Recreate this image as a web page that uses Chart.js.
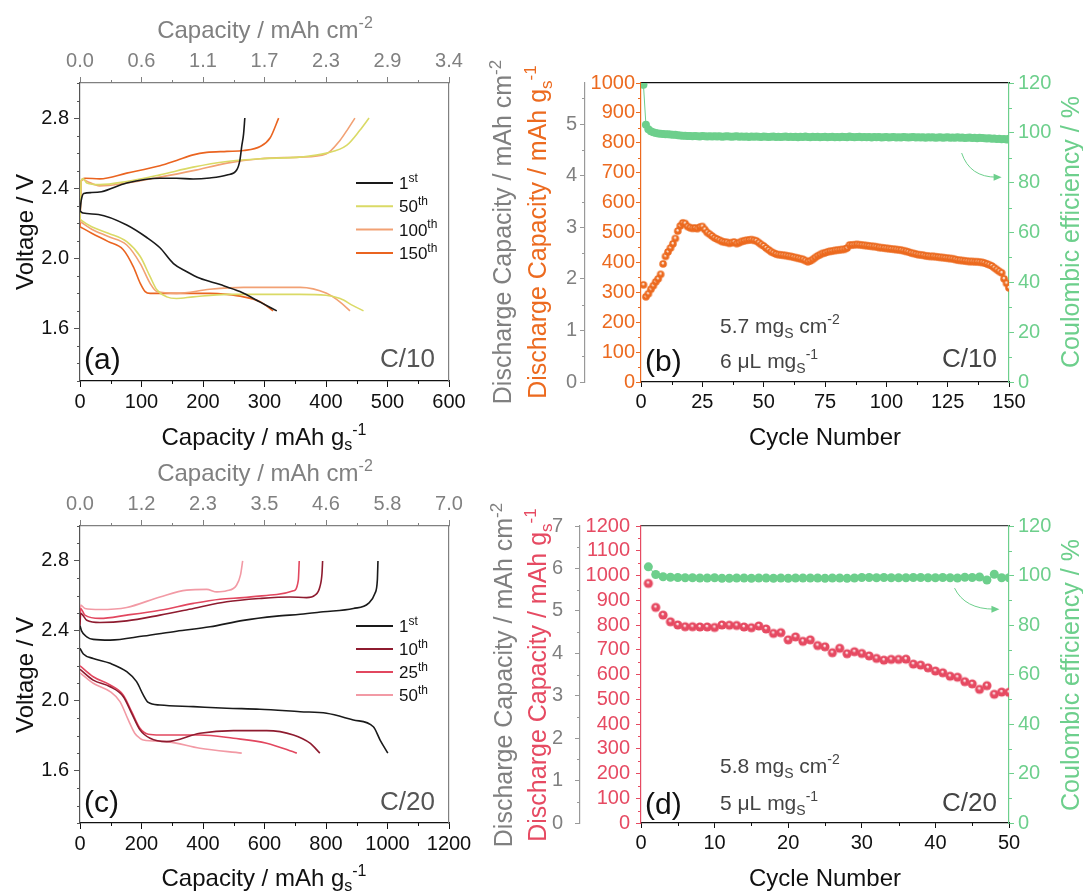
<!DOCTYPE html>
<html>
<head>
<meta charset="utf-8">
<script src="https://cdn.jsdelivr.net/npm/chart.js@4.4.1/dist/chart.umd.min.js"></script>
<style>
  html, body { margin: 0; padding: 0; background: #fff; }
  #wrap { position: relative; width: 1083px; height: 892px; }
  #wrap canvas { position: absolute; left: 0; top: 0; }
</style>
</head>
<body>
<div id="wrap">
  <canvas id="chartA" width="1083" height="892"></canvas>
  <canvas id="chartB" width="1083" height="892"></canvas>
  <canvas id="chartC" width="1083" height="892"></canvas>
  <canvas id="chartD" width="1083" height="892"></canvas>
</div>
<script>
// =============================================================================
// DATA
// =============================================================================

// Panel (a): voltage profiles at C/10, [capacity mAh/g, voltage V]
const cyclesA = ['1', '50', '100', '150'];
const suffixA = ['st', 'th', 'th', 'th'];
const a1Chg = [[0,2.27],[2,2.33],[6,2.37],[19,2.375],[35,2.38],[76,2.43],[130,2.457],[157,2.457],[184,2.452],[211,2.458],[239,2.475],[255,2.505],[260,2.56],[263,2.64],[266,2.71],[268,2.80]];
const a1Dis = [[0,2.27],[5,2.258],[30,2.25],[76,2.19],[108,2.12],[130,2.06],[152,1.97],[173,1.925],[195,1.886],[228,1.85],[260,1.81],[293,1.75],[320,1.70]];
const a50Chg = [[0,2.22],[2,2.44],[5,2.455],[11,2.43],[32,2.42],[76,2.438],[130,2.476],[184,2.52],[239,2.552],[293,2.568],[357,2.577],[401,2.60],[434,2.646],[455,2.73],[470,2.80]];
const a50Dis = [[0,2.225],[3,2.215],[19,2.18],[46,2.143],[76,2.095],[98,2.01],[114,1.895],[125,1.82],[141,1.78],[157,1.771],[184,1.78],[239,1.794],[357,1.794],[400,1.789],[423,1.77],[444,1.73],[461,1.70]];
const a100Chg = [[0,2.21],[2,2.44],[5,2.45],[11,2.44],[32,2.413],[76,2.43],[130,2.463],[184,2.50],[239,2.543],[293,2.568],[357,2.577],[400,2.595],[423,2.674],[436,2.74],[447,2.80]];
const a100Dis = [[0,2.21],[19,2.166],[46,2.124],[76,2.076],[98,1.97],[114,1.857],[125,1.81],[157,1.80],[211,1.823],[266,1.834],[358,1.834],[401,1.80],[423,1.75],[439,1.70]];
const a150Chg = [[0,2.18],[2,2.44],[8,2.457],[32,2.453],[76,2.486],[130,2.528],[157,2.558],[184,2.59],[206,2.604],[239,2.61],[266,2.615],[293,2.638],[309,2.686],[323,2.80]];
const a150Dis = [[0,2.18],[19,2.143],[46,2.095],[70,2.05],[87,1.95],[98,1.857],[106,1.81],[114,1.80],[157,1.80],[211,1.80],[239,1.794],[266,1.78],[293,1.752],[314,1.70]];
const capTicksA = [0, 100, 200, 300, 400, 500, 600];
const topLabelsA = ['0.0', '0.6', '1.1', '1.7', '2.3', '2.9', '3.4'];

// Panel (c): voltage profiles at C/20
const cyclesC = ['1', '10', '25', '50'];
const suffixC = ['st', 'th', 'th', 'th'];
const c1Chg = [[0,2.43],[5,2.40],[22,2.366],[43,2.351],[98,2.347],[206,2.37],[314,2.398],[423,2.423],[531,2.46],[640,2.484],[716,2.495],[791,2.509],[889,2.528],[938,2.557],[959,2.614],[967,2.69],[969,2.80]];
const c1Dis = [[0,2.30],[11,2.267],[43,2.242],[98,2.214],[152,2.166],[184,2.109],[206,2.032],[222,1.99],[260,1.975],[369,1.966],[477,1.957],[585,1.951],[716,1.937],[802,1.928],[889,1.89],[954,1.851],[976,1.775],[1001,1.70]];
const c10Chg = [[0,2.43],[2,2.50],[22,2.461],[65,2.448],[152,2.457],[260,2.49],[369,2.528],[477,2.566],[585,2.585],[683,2.594],[737,2.59],[764,2.604],[780,2.651],[787,2.728],[789,2.80]];
const c10Dis = [[0,2.18],[43,2.118],[98,2.08],[141,2.023],[168,1.928],[195,1.833],[228,1.785],[282,1.766],[390,1.814],[499,1.829],[607,1.829],[694,1.804],[748,1.757],[780,1.70]];
const c25Chg = [[0,2.45],[2,2.528],[16,2.49],[65,2.471],[152,2.49],[260,2.518],[369,2.557],[455,2.581],[531,2.59],[640,2.608],[694,2.629],[710,2.69],[713,2.80]];
const c25Dis = [[0,2.20],[43,2.137],[98,2.09],[141,2.032],[168,1.937],[195,1.842],[222,1.808],[260,1.804],[390,1.804],[499,1.785],[607,1.757],[705,1.70]];
const c50Chg = [[0,2.45],[2,2.547],[16,2.528],[65,2.522],[152,2.534],[260,2.594],[347,2.633],[412,2.637],[445,2.623],[477,2.629],[509,2.661],[522,2.72],[529,2.80]];
const c50Dis = [[0,2.16],[43,2.10],[98,2.052],[130,1.995],[157,1.89],[178,1.814],[195,1.785],[206,1.775],[282,1.766],[390,1.728],[526,1.70]];
const capTicksC = [0, 200, 400, 600, 800, 1000, 1200];
const topLabelsC = ['0.0', '1.2', '2.3', '3.5', '4.6', '5.8', '7.0'];

const voltTicks = [1.6, 2.0, 2.4, 2.8];

// Panel (b): cycling at C/10
const cyclesB = Array.from({ length: 150 }, (_, i) => i + 1);
const capB = [
  325,285,295,310,322,335,345,360,395,420,
  435,448,462,480,505,522,532,530,520,516,
  514,515,513,518,520,510,500,494,488,482,
  478,474,470,468,467,464,466,468,463,466,
  470,472,474,475,476,474,472,466,460,455,
  448,442,436,432,428,426,425,424,423,421,
  420,418,416,414,412,410,406,402,405,410,
  416,422,426,430,432,435,437,438,440,441,
  442,443,444,448,458,458,459,460,459,458,
  457,456,455,454,453,452,450,449,448,447,
  446,445,444,443,442,441,439,437,435,432,
  430,428,426,425,424,422,421,420,420,419,
  418,417,416,415,414,413,412,410,408,407,
  406,405,404,403,403,402,402,401,400,398,
  395,392,388,382,376,370,365,345,330,315
];
const ceB = [
  119.3,103.2,101.4,100.6,100.2,99.9,99.7,99.6,99.5,99.4,
  99.4,99.3,99.2,99.2,99.0,98.9,98.8,98.8,98.7,98.7,
  98.6,98.7,98.6,98.5,98.7,98.6,98.5,98.6,98.5,98.6,
  98.5,98.6,98.4,98.5,98.6,98.5,98.4,98.5,98.6,98.4,
  98.5,98.4,98.5,98.3,98.5,98.4,98.5,98.4,98.3,98.5,
  98.4,98.3,98.4,98.5,98.3,98.4,98.3,98.4,98.5,98.3,
  98.4,98.3,98.4,98.2,98.4,98.3,98.5,98.3,98.2,98.4,
  98.3,98.4,98.2,98.3,98.4,98.2,98.3,98.4,98.2,98.3,
  98.2,98.4,98.3,98.2,98.5,98.3,98.2,98.3,98.4,98.2,
  98.3,98.2,98.3,98.1,98.3,98.2,98.3,98.1,98.2,98.3,
  98.1,98.2,98.3,98.1,98.2,98.1,98.3,98.2,98.1,98.2,
  98.3,98.1,98.2,98.1,98.2,98.0,98.2,98.1,98.2,98.0,
  98.1,98.2,98.0,98.1,98.2,98.0,98.1,98.0,98.2,98.0,
  98.1,97.9,98.0,98.1,97.9,98.0,97.8,98.0,97.9,97.8,
  97.7,97.8,97.6,97.7,97.5,97.6,97.4,97.5,97.3,97.6
];
const cycleTicksB = [0, 25, 50, 75, 100, 125, 150];
const capAxisTicksB = [0, 100, 200, 300, 400, 500, 600, 700, 800, 900, 1000];
const areaTicksB = [0, 1, 2, 3, 4, 5];

// Panel (d): cycling at C/20
const cyclesD = Array.from({ length: 50 }, (_, i) => i + 1);
const capD = [
  968,871,840,813,800,793,793,792,792,790,
  800,799,798,792,789,796,784,766,769,740,
  752,734,740,717,712,688,706,684,692,685,
  675,665,658,661,661,662,642,638,627,614,
  607,593,589,571,562,540,555,520,529,528
];
const ceD = [
  103.5,100.4,99.5,99.3,99.2,99.1,99.1,99.0,99.0,99.1,
  98.9,98.9,99.0,99.0,98.9,99.0,99.0,98.9,99.0,98.9,
  99.0,99.0,99.0,99.0,98.9,99.0,99.0,98.9,99.0,99.2,
  99.2,99.1,99.2,99.1,99.1,99.1,99.2,99.2,99.1,99.1,
  99.2,99.1,99.0,99.3,99.2,99.4,98.2,100.5,99.1,99.1
];
const cycleTicksD = [0, 10, 20, 30, 40, 50];
const capAxisTicksD = [0, 100, 200, 300, 400, 500, 600, 700, 800, 900, 1000, 1100, 1200];
const areaTicksD = [0, 1, 2, 3, 4, 5, 6, 7];

const ceTicks = [0, 20, 40, 60, 80, 100, 120];

// =============================================================================
// STYLE
// =============================================================================
const FONT = "'Liberation Sans', Arial, Helvetica, sans-serif";
const INK = '#111111';
const GRAY = '#808080';
const ORANGE = '#ec6a1f';
const RED = '#e64a62';
const GREEN = '#6dcf8c';
const NOTE = '#444444';

Chart.defaults.font.family = FONT;
Chart.defaults.font.size = 20;
Chart.defaults.color = INK;

const plain = v => String(v);

// rich text with sub/superscripts: parts = [[text], [text,'sub'], [text,'sup']]
function drawRich(ctx, t) {
  const size = t.size || 20;
  ctx.save();
  ctx.translate(t.x, t.y);
  if (t.rot) ctx.rotate(t.rot * Math.PI / 180);
  ctx.textBaseline = 'alphabetic';
  ctx.textAlign = 'left';
  ctx.fillStyle = t.color || INK;
  const segs = t.parts.map(p => {
    const mode = p[1] || '';
    const fs = mode ? Math.round(size * 0.68) : size;
    ctx.font = fs + 'px ' + FONT;
    return { text: p[0], mode, fs, w: ctx.measureText(p[0]).width };
  });
  const total = segs.reduce((s, g) => s + g.w, 0);
  let x = t.align === 'center' ? -total / 2 : t.align === 'right' ? -total : 0;
  segs.forEach(g => {
    ctx.font = g.fs + 'px ' + FONT;
    const dy = g.mode === 'sup' ? -size * 0.42 : g.mode === 'sub' ? size * 0.22 : 0;
    ctx.fillText(g.text, x, dy);
    x += g.w;
  });
  ctx.restore();
}

// minor ticks, free text, line legend and the curved arrow
const decor = {
  id: 'decor',
  afterDraw(chart, args, o) {
    const ctx = chart.ctx;
    ctx.save();
    Object.entries(o.minor || {}).forEach(([id, m]) => {
      const s = chart.scales[id];
      const majors = s.ticks.map(t => t.value);
      ctx.strokeStyle = m.color;
      ctx.lineWidth = 1;
      for (let k = Math.ceil(s.min / m.step - 1e-6); k * m.step <= s.max + 1e-6; k++) {
        const v = k * m.step;
        if (majors.some(t => Math.abs(t - v) < 1e-6)) continue;
        const p = Math.round(s.getPixelForValue(v)) + 0.5;
        ctx.beginPath();
        if (s.position === 'left') { ctx.moveTo(s.right - m.len, p); ctx.lineTo(s.right, p); }
        else if (s.position === 'right') { ctx.moveTo(s.left, p); ctx.lineTo(s.left + m.len, p); }
        else if (s.position === 'bottom') { ctx.moveTo(p, s.top); ctx.lineTo(p, s.top + m.len); }
        else { ctx.moveTo(p, s.bottom); ctx.lineTo(p, s.bottom - m.len); }
        ctx.stroke();
      }
    });
    if (o.legend) {
      const L = o.legend;
      L.labels.forEach((lab, i) => {
        const y = L.y + i * L.dy;
        ctx.strokeStyle = L.colors[i];
        ctx.lineWidth = 2;
        ctx.beginPath();
        ctx.moveTo(L.x, y);
        ctx.lineTo(L.x + 37, y);
        ctx.stroke();
        drawRich(ctx, { parts: [[lab], [L.sups[i], 'sup']], x: L.x + 43, y: y + 6, size: 17 });
      });
    }
    if (o.arrow) {
      const a = o.arrow;
      const xs = chart.scales.x, ys = chart.scales[a.yAxis];
      const P = q => [xs.getPixelForValue(q[0]), ys.getPixelForValue(q[1])];
      const [x0, y0] = P(a.from), [cx, cy] = P(a.ctrl), [x1, y1] = P(a.to);
      ctx.strokeStyle = GREEN;
      ctx.fillStyle = GREEN;
      ctx.lineWidth = 1;
      ctx.beginPath();
      ctx.moveTo(x0, y0);
      ctx.quadraticCurveTo(cx, cy, x1 - 5, y1);
      ctx.stroke();
      const ang = Math.atan2(y1 - cy, x1 - cx);
      ctx.beginPath();
      ctx.moveTo(x1, y1);
      ctx.lineTo(x1 - 8 * Math.cos(ang) + 3.5 * Math.sin(ang), y1 - 8 * Math.sin(ang) - 3.5 * Math.cos(ang));
      ctx.lineTo(x1 - 8 * Math.cos(ang) - 3.5 * Math.sin(ang), y1 - 8 * Math.sin(ang) + 3.5 * Math.cos(ang));
      ctx.closePath();
      ctx.fill();
    }
    (o.texts || []).forEach(t => drawRich(ctx, t));
    ctx.restore();
  }
};

// shaded ball marker with a small highlight
function ball(color, r, shine, spot) {
  const c = document.createElement('canvas');
  const s = Math.ceil(r * 2 + 2);
  c.width = c.height = s;
  const g = c.getContext('2d');
  const grad = g.createRadialGradient(s / 2 - r * 0.1, s / 2 - r * 0.3, 0, s / 2, s / 2, r);
  grad.addColorStop(0, '#ffffff');
  grad.addColorStop(spot * 0.5, shine);
  grad.addColorStop(spot, color);
  grad.addColorStop(1, color);
  g.fillStyle = grad;
  g.beginPath();
  g.arc(s / 2, s / 2, r, 0, Math.PI * 2);
  g.fill();
  return c;
}

function fixedTicks(list) {
  return s => { s.ticks = list.map(v => ({ value: v })); };
}

// =============================================================================
// VOLTAGE PROFILE PANELS (a), (c)
// =============================================================================
function voltageChart(id, cfg) {
  const datasets = [];
  cfg.curves.forEach((pts, i) => {
    datasets.push({
      data: pts.map(p => ({ x: p[0], y: p[1] })),
      showLine: true,
      borderColor: cfg.colors[Math.floor(i / 2)],
      borderWidth: 1.6,
      pointRadius: 0,
      cubicInterpolationMode: 'monotone',
      clip: 0
    });
  });
  const A = cfg.area;
  return new Chart(document.getElementById(id), {
    type: 'scatter',
    data: { datasets },
    plugins: [decor],
    options: {
      responsive: false,
      animation: false,
      events: [],
      layout: { padding: 0 },
      plugins: {
        legend: { display: false },
        tooltip: { enabled: false },
        decor: cfg.decor
      },
      scales: {
        x: {
          type: 'linear', position: 'bottom', min: 0, max: cfg.xMax,
          afterBuildTicks: fixedTicks(cfg.xTicks),
          ticks: { color: INK, padding: 3, maxRotation: 0, autoSkip: false, callback: plain },
          grid: { drawOnChartArea: false, tickLength: 6, tickColor: INK },
          border: { color: INK, width: 1.2 },
          afterFit: s => { s.height = 892 - A.bottom; }
        },
        xTop: {
          type: 'linear', position: 'top', min: 0, max: cfg.xMax,
          afterBuildTicks: fixedTicks(cfg.xTicks),
          ticks: { color: GRAY, padding: 4, maxRotation: 0, autoSkip: false, callback: (v, i) => cfg.topLabels[i] },
          grid: { drawOnChartArea: false, tickLength: 6, tickColor: GRAY },
          border: { color: GRAY, width: 1.2 },
          afterFit: s => { s.height = A.top; }
        },
        y: {
          type: 'linear', position: 'left', min: 1.3, max: 3.0,
          afterBuildTicks: fixedTicks(voltTicks),
          ticks: { color: INK, padding: 5, autoSkip: false, callback: v => v.toFixed(1) },
          grid: { drawOnChartArea: false, tickLength: 6, tickColor: '#555' },
          border: { color: '#555', width: 1.2 },
          afterFit: s => { s.width = A.left; }
        },
        yRight: {
          type: 'linear', position: 'right', min: 1.3, max: 3.0,
          ticks: { display: false },
          grid: { display: false },
          border: { color: GRAY, width: 1.2 },
          afterFit: s => { s.width = 1083 - A.right; }
        }
      }
    }
  });
}

// =============================================================================
// CYCLING PANELS (b), (d)
// =============================================================================
function cycleChart(id, cfg) {
  const A = cfg.area;
  return new Chart(document.getElementById(id), {
    type: 'scatter',
    data: {
      datasets: [
        {
          data: cfg.cycles.map((c, i) => ({ x: c, y: cfg.ce[i] })),
          yAxisID: 'yCE',
          showLine: true,
          borderColor: GREEN,
          borderWidth: 1,
          pointStyle: 'circle',
          pointRadius: cfg.ceRadius,
          pointBackgroundColor: GREEN,
          pointBorderWidth: 0,
          clip: 0
        },
        {
          data: cfg.cycles.map((c, i) => ({ x: c, y: cfg.cap[i] })),
          yAxisID: 'y',
          showLine: false,
          pointStyle: cfg.marker,
          pointRadius: 4,
          clip: 0
        }
      ]
    },
    plugins: [decor],
    options: {
      responsive: false,
      animation: false,
      events: [],
      layout: { padding: 0 },
      plugins: {
        legend: { display: false },
        tooltip: { enabled: false },
        decor: cfg.decor
      },
      scales: {
        x: {
          type: 'linear', position: 'bottom', min: 0, max: cfg.xMax,
          afterBuildTicks: fixedTicks(cfg.xTicks),
          ticks: { color: INK, padding: 3, maxRotation: 0, autoSkip: false, callback: plain },
          grid: { drawOnChartArea: false, tickLength: 5, tickColor: INK },
          border: { color: INK, width: 1.2 },
          afterFit: s => { s.height = 892 - A.bottom; }
        },
        xTop: {
          type: 'linear', position: 'top', min: 0, max: cfg.xMax,
          ticks: { display: false },
          grid: { display: false },
          border: { color: cfg.topColor, width: 1.2 },
          afterFit: s => { s.height = A.top; }
        },
        y: {
          type: 'linear', position: 'left', weight: 1, min: 0, max: cfg.capMax,
          afterBuildTicks: fixedTicks(cfg.capTicks),
          ticks: { color: cfg.color, padding: cfg.capPad, autoSkip: false, callback: plain },
          grid: { drawOnChartArea: false, tickLength: 5, tickColor: cfg.color },
          border: { color: cfg.color, width: 1.2 },
          afterFit: s => { s.width = A.left - cfg.grayX; }
        },
        yArea: {
          type: 'linear', position: 'left', weight: 2, min: 0, max: cfg.areaMax,
          afterBuildTicks: fixedTicks(cfg.areaTicks),
          ticks: { color: GRAY, padding: cfg.areaPad, autoSkip: false, callback: plain },
          grid: { drawOnChartArea: false, tickLength: 5, tickColor: '#999' },
          border: { color: '#999', width: 1.2 },
          afterFit: s => { s.width = cfg.grayX; }
        },
        yCE: {
          type: 'linear', position: 'right', min: 0, max: 120,
          afterBuildTicks: fixedTicks(ceTicks),
          ticks: { color: GREEN, padding: 4, autoSkip: false, callback: plain },
          grid: { drawOnChartArea: false, tickLength: 5, tickColor: GREEN },
          border: { color: GREEN, width: 1.2 },
          afterFit: s => { s.width = 1083 - A.right; }
        }
      }
    }
  });
}

// =============================================================================
// BUILD
// =============================================================================
document.addEventListener('DOMContentLoaded', function() {
  const colorsA = ['#1a1a1a', '#dada66', '#f2a174', '#ea6420'];
  voltageChart('chartA', {
    area: { left: 80, top: 83, right: 449, bottom: 381 },
    xMax: 600, xTicks: capTicksA, topLabels: topLabelsA,
    curves: [a1Chg, a1Dis, a50Chg, a50Dis, a100Chg, a100Dis, a150Chg, a150Dis],
    colors: colorsA,
    decor: {
      minor: {
        x: { step: 50, len: 3, color: INK },
        xTop: { step: 50, len: 3, color: GRAY },
        y: { step: 0.1, len: 3, color: '#555' }
      },
      legend: { x: 356, y: 183, dy: 23.3, labels: cyclesA, sups: suffixA, colors: colorsA },
      texts: [
        { parts: [['Capacity / mAh cm'], ['-2', 'sup']], x: 265, y: 38, size: 24, color: GRAY, align: 'center' },
        { parts: [['Capacity / mAh g'], ['s', 'sub'], ['-1', 'sup']], x: 264, y: 445, size: 24, align: 'center' },
        { parts: [['Voltage / V']], x: 33, y: 232, size: 24, rot: -90, align: 'center' },
        { parts: [['(a)']], x: 84, y: 369, size: 30 },
        { parts: [['C/10']], x: 435, y: 367, size: 26, color: '#555', align: 'right' }
      ]
    }
  });

  const colorsC = ['#1a1a1a', '#8e1b2f', '#e2475f', '#f29aa5'];
  voltageChart('chartC', {
    area: { left: 80, top: 526, right: 449, bottom: 823 },
    xMax: 1200, xTicks: capTicksC, topLabels: topLabelsC,
    curves: [c1Chg, c1Dis, c10Chg, c10Dis, c25Chg, c25Dis, c50Chg, c50Dis],
    colors: colorsC,
    decor: {
      minor: {
        x: { step: 100, len: 3, color: INK },
        xTop: { step: 100, len: 3, color: GRAY },
        y: { step: 0.1, len: 3, color: '#555' }
      },
      legend: { x: 356, y: 626, dy: 23, labels: cyclesC, sups: suffixC, colors: colorsC },
      texts: [
        { parts: [['Capacity / mAh cm'], ['-2', 'sup']], x: 265, y: 481, size: 24, color: GRAY, align: 'center' },
        { parts: [['Capacity / mAh g'], ['s', 'sub'], ['-1', 'sup']], x: 264, y: 886, size: 24, align: 'center' },
        { parts: [['Voltage / V']], x: 33, y: 675, size: 24, rot: -90, align: 'center' },
        { parts: [['(c)']], x: 84, y: 812, size: 30 },
        { parts: [['C/20']], x: 435, y: 810, size: 26, color: '#555', align: 'right' }
      ]
    }
  });

  cycleChart('chartB', {
    area: { left: 641, top: 83, right: 1009, bottom: 382 },
    grayX: 585, capPad: 1, areaPad: 3,
    xMax: 150, xTicks: cycleTicksB,
    cycles: cyclesB, cap: capB, ce: ceB, ceRadius: 4,
    capMax: 1000, capTicks: capAxisTicksB, areaMax: 5.8, areaTicks: areaTicksB,
    color: ORANGE, topColor: INK,
    marker: ball(ORANGE, 3.8, '#fbd9c3', 0.45),
    decor: {
      minor: {
        x: { step: 12.5, len: 3, color: INK },
        y: { step: 50, len: 3, color: ORANGE },
        yArea: { step: 0.5, len: 3, color: '#999' },
        yCE: { step: 10, len: 3, color: GREEN }
      },
      arrow: { yAxis: 'yCE', from: [130.7, 91.9], ctrl: [134, 82.2], to: [147, 82.2] },
      texts: [
        { parts: [['Discharge Capacity / mAh cm'], ['-2', 'sup']], x: 511, y: 232, size: 25, rot: -90, color: GRAY, align: 'center' },
        { parts: [['Discharge Capacity / mAh g'], ['s', 'sub'], ['-1', 'sup']], x: 546, y: 232, size: 25, rot: -90, color: ORANGE, align: 'center' },
        { parts: [['Coulombic efficiency / %']], x: 1079, y: 232, size: 25, rot: -90, color: GREEN, align: 'center' },
        { parts: [['Cycle Number']], x: 825, y: 445, size: 24, align: 'center' },
        { parts: [['(b)']], x: 645, y: 371, size: 30 },
        { parts: [['5.7 mg'], ['S', 'sub'], [' cm'], ['-2', 'sup']], x: 720, y: 333, size: 21, color: NOTE },
        { parts: [['6 μL mg'], ['S', 'sub'], ['-1', 'sup']], x: 720, y: 368, size: 21, color: NOTE },
        { parts: [['C/10']], x: 997, y: 367, size: 26, color: NOTE, align: 'right' }
      ]
    }
  });

  cycleChart('chartD', {
    area: { left: 641, top: 526, right: 1009, bottom: 823 },
    grayX: 580, capPad: 6, areaPad: 12,
    xMax: 50, xTicks: cycleTicksD,
    cycles: cyclesD, cap: capD, ce: ceD, ceRadius: 4.5,
    capMax: 1200, capTicks: capAxisTicksD, areaMax: 7, areaTicks: areaTicksD,
    color: RED, topColor: '#444',
    marker: ball(RED, 4.6, '#f7c4cc', 0.4),
    decor: {
      minor: {
        x: { step: 5, len: 3, color: INK },
        y: { step: 50, len: 3, color: RED },
        yArea: { step: 0.5, len: 3, color: '#999' },
        yCE: { step: 10, len: 3, color: GREEN }
      },
      arrow: { yAxis: 'yCE', from: [42.6, 94.9], ctrl: [44, 86.4], to: [48.7, 86.4] },
      texts: [
        { parts: [['Discharge Capacity / mAh cm'], ['-2', 'sup']], x: 512, y: 675, size: 25, rot: -90, color: GRAY, align: 'center' },
        { parts: [['Discharge Capacity / mAh g'], ['s', 'sub'], ['-1', 'sup']], x: 546, y: 675, size: 25, rot: -90, color: RED, align: 'center' },
        { parts: [['Coulombic efficiency / %']], x: 1079, y: 675, size: 25, rot: -90, color: GREEN, align: 'center' },
        { parts: [['Cycle Number']], x: 825, y: 886, size: 24, align: 'center' },
        { parts: [['(d)']], x: 645, y: 814, size: 30 },
        { parts: [['5.8 mg'], ['S', 'sub'], [' cm'], ['-2', 'sup']], x: 720, y: 773, size: 21, color: NOTE },
        { parts: [['5 μL mg'], ['S', 'sub'], ['-1', 'sup']], x: 720, y: 810, size: 21, color: NOTE },
        { parts: [['C/20']], x: 997, y: 811, size: 26, color: NOTE, align: 'right' }
      ]
    }
  });
});
</script>
</body>
</html>
